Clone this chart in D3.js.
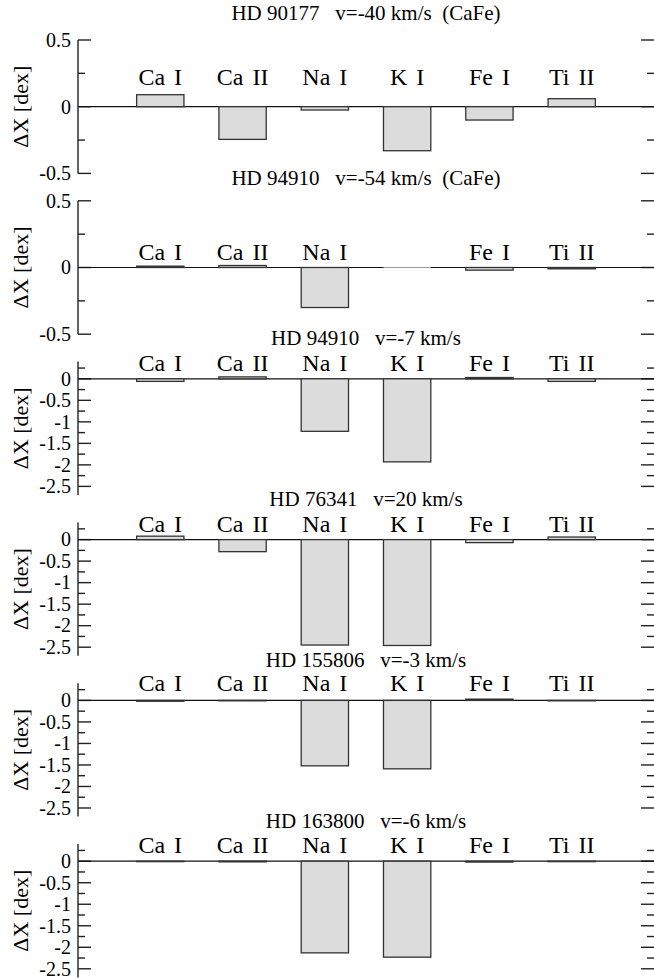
<!DOCTYPE html>
<html>
<head>
<meta charset="utf-8">
<script src="https://cdn.jsdelivr.net/npm/d3@7"></script>
<style>
  html, body { margin: 0; padding: 0; background: #fff; }
  svg { display: block; }
</style>
</head>
<body>
<svg id="chart" width="654" height="979"></svg>
<script>
// ions shown on every panel
var ions = ['Ca I', 'Ca II', 'Na I', 'K I', 'Fe I', 'Ti II'];

var titles = [
  'HD 90177   v=-40 km/s  (CaFe)',
  'HD 94910   v=-54 km/s  (CaFe)',
  'HD 94910   v=-7 km/s',
  'HD 76341   v=20 km/s',
  'HD 155806   v=-3 km/s',
  'HD 163800   v=-6 km/s'
];

// delta X per ion, null = not measured
var hd90177Cafe = [0.09, -0.245, -0.025, -0.33, -0.10, 0.06];
var hd94910Cafe = [0.01, 0.015, -0.30, null, -0.02, -0.01];
var hd94910 = [-0.06, 0.045, -1.22, -1.93, 0.03, -0.06];
var hd76341 = [0.08, -0.28, -2.45, -2.46, -0.07, 0.06];
var hd155806 = [-0.02, -0.01, -1.52, -1.59, 0.03, -0.01];
var hd163800 = [-0.01, -0.015, -2.13, -2.23, -0.02, -0.01];

var series = [hd90177Cafe, hd94910Cafe, hd94910, hd76341, hd155806, hd163800];

// two kinds of y axis
var narrowDomain = [-0.5, 0.5];
var narrowTicks = [0.5, 0, -0.5];
var narrowTickLabels = ['0.5', '0', '-0.5'];
var narrowMinor = [0.25, -0.25];

var deepDomain = [-2.7, 0.4];
var deepTicks = [0, -0.5, -1, -1.5, -2, -2.5];
var deepTickLabels = ['0', '-0.5', '-1', '-1.5', '-2', '-2.5'];
var deepMinor = [0.25, -0.25, -0.75, -1.25, -1.75, -2.25];

var axisKind = ['narrow', 'narrow', 'deep', 'deep', 'deep', 'deep'];

// layout
var left = 78;
var right = 654;
var firstTop = 40;
var panelStep = 160.8;
var panelHeight = 133.4;
var titleLift = [20, 16, 16.5, 16.5, 16, 16.5];
var labelLift = [22, 8, 8, 8, 9, 8];
var serif = '"Liberation Serif", "Times New Roman", Times, "DejaVu Serif", serif';

var svg = d3.select('#chart')
  .style('font-family', serif);

var x = d3.scalePoint()
  .domain(ions)
  .range([left, right])
  .padding(1);

var barWidth = x.step() * 0.575;

function axisSpec(kind) {
  if (kind === 'narrow') {
    return { domain: narrowDomain, ticks: narrowTicks, labels: narrowTickLabels, minor: narrowMinor };
  }
  return { domain: deepDomain, ticks: deepTicks, labels: deepTickLabels, minor: deepMinor };
}

function drawPanel(i) {
  var top = firstTop + i * panelStep;
  var spec = axisSpec(axisKind[i]);
  var values = series[i];

  var y = d3.scaleLinear()
    .domain(spec.domain)
    .range([top + panelHeight, top]);

  var g = svg.append('g');

  // title
  g.append('text')
    .attr('x', (left + right) / 2)
    .attr('y', top - titleLift[i])
    .attr('text-anchor', 'middle')
    .style('font-size', '21px')
    .style('white-space', 'pre')
    .text(titles[i]);

  // y label
  g.append('text')
    .attr('transform', 'translate(28,' + (top + panelHeight / 2) + ') rotate(-90)')
    .attr('text-anchor', 'middle')
    .style('font-size', '22px')
    .text('\u0394X [dex]');

  // left axis line
  g.append('line')
    .attr('x1', left).attr('x2', left)
    .attr('y1', y(spec.domain[0])).attr('y2', y(spec.domain[1]))
    .style('stroke', '#222')
    .style('stroke-width', 1.4);

  // ticks on both sides
  var ticks = spec.ticks.map(function(v) { return { v: v, len: 13 }; })
    .concat(spec.minor.map(function(v) { return { v: v, len: 7 }; }));

  g.selectAll('.tickL')
    .data(ticks)
    .enter().append('line')
    .attr('x1', left)
    .attr('x2', function(d) { return left + d.len; })
    .attr('y1', function(d) { return y(d.v); })
    .attr('y2', function(d) { return y(d.v); })
    .style('stroke', '#222')
    .style('stroke-width', 1.4);

  g.selectAll('.tickR')
    .data(ticks)
    .enter().append('line')
    .attr('x1', right)
    .attr('x2', function(d) { return right - d.len; })
    .attr('y1', function(d) { return y(d.v); })
    .attr('y2', function(d) { return y(d.v); })
    .style('stroke', '#222')
    .style('stroke-width', 1.4);

  g.selectAll('.tickLabel')
    .data(spec.ticks)
    .enter().append('text')
    .attr('x', left - 7)
    .attr('y', function(d) { return y(d); })
    .attr('dy', '0.34em')
    .attr('text-anchor', 'end')
    .style('font-size', '20px')
    .text(function(d, j) { return spec.labels[j]; });

  // zero line
  g.append('line')
    .attr('x1', left).attr('x2', right)
    .attr('y1', y(0)).attr('y2', y(0))
    .style('stroke', '#111')
    .style('stroke-width', 1.2);

  var rows = ions.map(function(ion, j) { return { ion: ion, v: values[j] }; });

  g.selectAll('.bar')
    .data(rows.filter(function(d) { return d.v !== null; }))
    .enter().append('rect')
    .attr('x', function(d) { return x(d.ion) - barWidth / 2; })
    .attr('width', barWidth)
    .attr('y', function(d) { return y(Math.max(0, d.v)); })
    .attr('height', function(d) { return Math.abs(y(d.v) - y(0)); })
    .style('fill', '#dcdcdc')
    .style('stroke', '#333')
    .style('stroke-width', 1.3);

  // missing ion leaves a faint mark on the zero line
  g.selectAll('.gap')
    .data(rows.filter(function(d) { return d.v === null; }))
    .enter().append('line')
    .attr('x1', function(d) { return x(d.ion) - barWidth / 2; })
    .attr('x2', function(d) { return x(d.ion) + barWidth / 2; })
    .attr('y1', y(0)).attr('y2', y(0))
    .style('stroke', '#999')
    .style('stroke-width', 1.2);

  g.selectAll('.ion')
    .data(rows.filter(function(d) { return d.v !== null; }))
    .enter().append('text')
    .attr('x', function(d) { return x(d.ion); })
    .attr('y', y(0) - labelLift[i])
    .attr('text-anchor', 'middle')
    .style('font-size', '24px')
    .style('word-spacing', '3px')
    .text(function(d) { return d.ion; });
}

for (var i = 0; i < series.length; i++) {
  drawPanel(i);
}
</script>
</body>
</html>
